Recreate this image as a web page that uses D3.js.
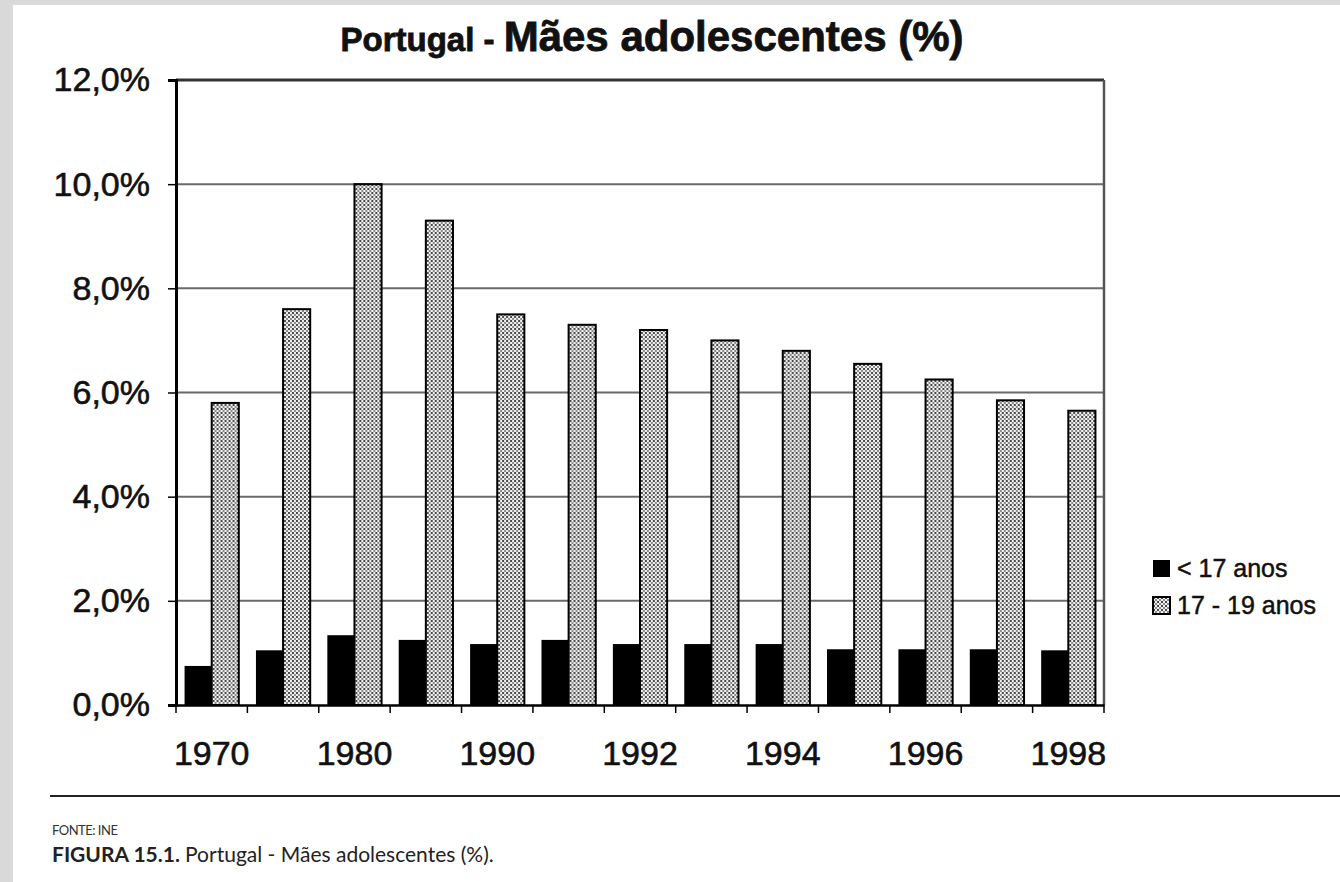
<!DOCTYPE html>
<html>
<head>
<meta charset="utf-8">
<script src="https://cdn.jsdelivr.net/npm/d3@7"></script>
<style>
  html, body { margin: 0; padding: 0; background: #d9d9d9; }
  svg { display: block; }
</style>
</head>
<body>
<svg id="chart" width="1340" height="882"></svg>
<script>
var years = ['1970', '1975', '1980', '1985', '1990', '1991', '1992', '1993', '1994', '1995', '1996', '1997', '1998'];
var shownYears = ['1970', '1980', '1990', '1992', '1994', '1996', '1998'];
var under17 = [0.75, 1.05, 1.34, 1.25, 1.17, 1.25, 1.17, 1.17, 1.17, 1.07, 1.07, 1.07, 1.05];
var from17to19 = [5.8, 7.6, 10.0, 9.3, 7.5, 7.3, 7.2, 7.0, 6.8, 6.55, 6.25, 5.85, 5.65];
var seriesNames = ['< 17 anos', '17 - 19 anos'];
var yTicks = [0, 2, 4, 6, 8, 10, 12];

(function () {
  var svg = d3.select('#chart');
  var margin = { top: 80, right: 236, bottom: 177, left: 176 };
  var width = 1340 - margin.left - margin.right;
  var height = 882 - margin.top - margin.bottom;
  var font = "'Liberation Sans', Arial, sans-serif";

  // page (scanned sheet on a grey frame)
  svg.append('rect')
      .attr('x', 13).attr('y', 5)
      .attr('width', 1340).attr('height', 882)
      .attr('fill', '#fff');

  var defs = svg.append('defs');
  var pat = defs.append('pattern')
      .attr('id', 'dots')
      .attr('patternUnits', 'userSpaceOnUse')
      .attr('width', 4).attr('height', 4);
  pat.append('rect').attr('width', 4).attr('height', 4).attr('fill', '#f2f2f2');
  pat.append('rect').attr('x', 0).attr('y', 0).attr('width', 2).attr('height', 2).attr('fill', '#4a4a4a');
  pat.append('rect').attr('x', 2).attr('y', 2).attr('width', 2).attr('height', 2).attr('fill', '#8a8a8a');

  var x = d3.scaleBand()
      .domain(years)
      .range([0, width])
      .paddingInner(0.24)
      .paddingOuter(0.12);

  var xSub = d3.scaleBand()
      .domain([0, 1])
      .range([0, x.bandwidth()]);

  var y = d3.scaleLinear()
      .domain([0, 12])
      .range([height, 0]);

  var g = svg.append('g')
      .attr('transform', 'translate(' + margin.left + ',' + margin.top + ')');

  // grid lines
  g.selectAll('line.grid')
      .data(yTicks.filter(function (d) { return d > 0 && d < 12; }))
      .enter().append('line')
      .attr('class', 'grid')
      .attr('x1', 0).attr('x2', width)
      .attr('y1', function (d) { return y(d); })
      .attr('y2', function (d) { return y(d); })
      .attr('stroke', '#6a6a6a')
      .attr('stroke-width', 2);

  // frame top and right
  g.append('line')
      .attr('x1', 0).attr('x2', width)
      .attr('y1', y(12)).attr('y2', y(12))
      .attr('stroke', '#333').attr('stroke-width', 3);
  g.append('line')
      .attr('x1', width).attr('x2', width)
      .attr('y1', y(12)).attr('y2', height)
      .attr('stroke', '#555').attr('stroke-width', 2.5);

  var rows = years.map(function (yr, i) {
    return { year: yr, values: [under17[i], from17to19[i]] };
  });

  var groups = g.selectAll('g.year')
      .data(rows)
      .enter().append('g')
      .attr('class', 'year')
      .attr('transform', function (d) { return 'translate(' + x(d.year) + ',0)'; });

  groups.append('rect')
      .attr('x', xSub(0))
      .attr('y', function (d) { return y(d.values[0]); })
      .attr('width', xSub.bandwidth())
      .attr('height', function (d) { return height - y(d.values[0]); })
      .attr('fill', '#000');

  groups.append('rect')
      .attr('x', xSub(1))
      .attr('y', function (d) { return y(d.values[1]); })
      .attr('width', xSub.bandwidth())
      .attr('height', function (d) { return height - y(d.values[1]); })
      .attr('fill', 'url(#dots)')
      .attr('stroke', '#000')
      .attr('stroke-width', 2);

  // y axis
  var yAxis = d3.axisLeft(y)
      .tickValues(yTicks)
      .tickSize(8)
      .tickPadding(18)
      .tickFormat(function (d) { return d3.format('.1f')(d).replace('.', ',') + '%'; });

  var yAxisG = g.append('g').attr('class', 'y-axis').call(yAxis);
  yAxisG.select('.domain').attr('stroke', '#000').attr('stroke-width', 3);
  yAxisG.selectAll('.tick line').attr('stroke', '#000').attr('stroke-width', 1.5);
  yAxisG.selectAll('.tick text')
      .attr('font-family', font)
      .attr('font-size', 34)
      .attr('fill', '#111')
      .attr('stroke', '#111')
      .attr('stroke-width', 0.6);

  // x axis: labels on every other category, ticks between categories
  var xAxis = d3.axisBottom(x)
      .tickValues(shownYears)
      .tickSize(0)
      .tickPadding(36);

  var xAxisG = g.append('g')
      .attr('class', 'x-axis')
      .attr('transform', 'translate(0,' + height + ')')
      .call(xAxis);
  xAxisG.select('.domain').attr('stroke', '#000').attr('stroke-width', 2.5);
  xAxisG.selectAll('.tick text')
      .attr('font-family', font)
      .attr('font-size', 34)
      .attr('fill', '#111')
      .attr('stroke', '#111')
      .attr('stroke-width', 0.6);

  var edge = x.step() * x.paddingOuter();
  var boundaries = years.map(function (yr) { return x(yr) - edge; }).concat([width]);
  xAxisG.selectAll('line.sep')
      .data(boundaries)
      .enter().append('line')
      .attr('class', 'sep')
      .attr('x1', function (d) { return d; })
      .attr('x2', function (d) { return d; })
      .attr('y1', 0).attr('y2', 8)
      .attr('stroke', '#000')
      .attr('stroke-width', 1.5);

  // title
  var title = svg.append('text')
      .attr('x', 652)
      .attr('y', 51)
      .attr('text-anchor', 'middle')
      .attr('font-family', font)
      .attr('font-weight', 'bold')
      .attr('fill', '#111')
      .attr('stroke', '#111')
      .attr('stroke-width', 0.8);
  title.append('tspan').attr('font-size', 33).text('Portugal - ');
  title.append('tspan').attr('font-size', 42).text('Mães adolescentes (%)');

  // legend
  var legend = svg.append('g').attr('transform', 'translate(1153,560)');
  var items = legend.selectAll('g.item')
      .data(seriesNames)
      .enter().append('g')
      .attr('class', 'item')
      .attr('transform', function (d, i) { return 'translate(0,' + (i * 37) + ')'; });

  items.append('rect')
      .attr('width', 17).attr('height', 17)
      .attr('fill', function (d, i) { return i === 0 ? '#000' : 'url(#dots)'; })
      .attr('stroke', function (d, i) { return i === 0 ? 'none' : '#000'; })
      .attr('stroke-width', 2);

  items.append('text')
      .attr('x', 24)
      .attr('y', 17)
      .attr('font-family', font)
      .attr('font-size', 25)
      .attr('fill', '#111')
      .attr('stroke', '#111')
      .attr('stroke-width', 0.5)
      .text(function (d) { return d; });

  // caption below the figure
  svg.append('line')
      .attr('x1', 50).attr('x2', 1340)
      .attr('y1', 796).attr('y2', 796)
      .attr('stroke', '#222')
      .attr('stroke-width', 2);

  svg.append('text')
      .attr('x', 52).attr('y', 835)
      .attr('font-family', 'Lato, Open Sans, sans-serif')
      .attr('font-size', 13)
      .attr('letter-spacing', -0.5)
      .attr('fill', '#333')
      .text('FONTE: INE');

  var caption = svg.append('text')
      .attr('x', 52).attr('y', 862)
      .attr('font-family', 'Lato, Open Sans, sans-serif')
      .attr('font-size', 21)
      .attr('fill', '#222');
  caption.append('tspan').attr('font-weight', 'bold').text('FIGURA 15.1. ');
  caption.append('tspan').text('Portugal - Mães adolescentes (%).');
})();
</script>
</body>
</html>
